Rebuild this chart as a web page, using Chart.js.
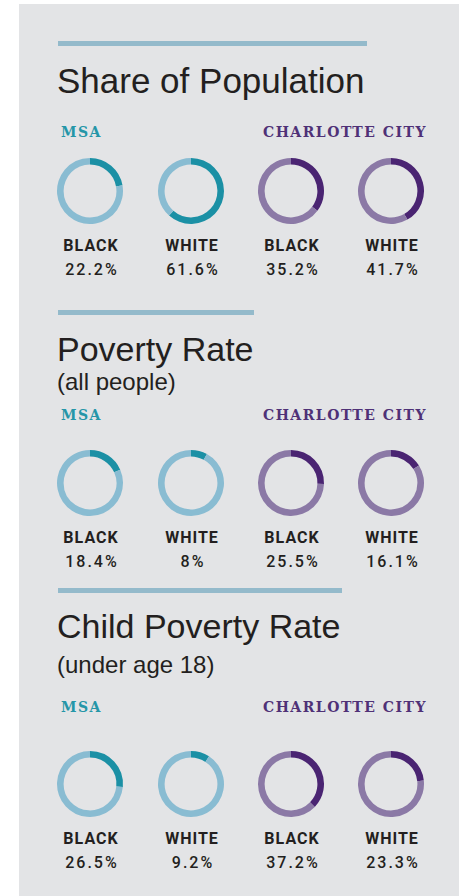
<!DOCTYPE html>
<html>
<head>
<meta charset="utf-8">
<script src="https://cdn.jsdelivr.net/npm/chart.js@4"></script>
<style>
  html, body { margin: 0; padding: 0; background: #ffffff; }
  body { width: 461px; height: 896px; position: relative; overflow: hidden; }
  #panel { position: absolute; left: 19px; top: 4px; width: 440px; height: 892px; background: #e3e4e6; }
  .rule { position: absolute; left: 58px; height: 5px; background: #94bacb; }
  .txt { position: absolute; white-space: nowrap; line-height: 1; color: #231f20; }
  .title { font-family: "Liberation Sans", Arial, sans-serif; }
  .note { font-family: "Liberation Sans", Arial, sans-serif; font-size: 24px; }
  .region { font-family: "DejaVu Serif", serif; font-weight: 700; font-size: 14px; letter-spacing: 1.5px; }
  .group { font-family: Roboto, sans-serif; font-weight: 700; font-size: 16px; letter-spacing: 1px; text-align: center; width: 120px; }
  .pct { font-family: Roboto, sans-serif; font-weight: 500; font-size: 16px; letter-spacing: 2px; text-align: center; width: 120px; }
  canvas { position: absolute; }
</style>
</head>
<body>
<div id="panel"></div>
<script>
"use strict";

// ---- data ----
const sectionTitles = ["Share of Population", "Poverty Rate", "Child Poverty Rate"];
const sectionNotes = ["", "(all people)", "(under age 18)"];
const regionLabels = ["MSA", "CHARLOTTE CITY"];
const groupLabels = ["BLACK", "WHITE", "BLACK", "WHITE"];
const shareOfPopulation = [22.2, 61.6, 35.2, 41.7];
const povertyRate = [18.4, 8, 25.5, 16.1];
const childPovertyRate = [26.5, 9.2, 37.2, 23.3];
const sectionValues = [shareOfPopulation, povertyRate, childPovertyRate];

// ---- layout ----
const ringX = [90, 191, 291, 391];
const sections = [
  { ruleY: 41, ruleW: 309, titleBase: 93, titleSize: 35, noteBase: 0, regionBase: 136.5, ringY: 191 },
  { ruleY: 310, ruleW: 196, titleBase: 361, titleSize: 34, noteBase: 390, regionBase: 420, ringY: 483 },
  { ruleY: 588, ruleW: 284, titleBase: 638, titleSize: 34, noteBase: 673, regionBase: 712, ringY: 784 }
];
const regionX = [61, 263];
const regionColor = ["#2596a8", "#4f3177"];
const ringDark = ["#1b90a5", "#4a2472"];
const ringLight = ["#89bcd2", "#8b79a6"];
const RING = 70;

// baseline offset (fraction of font size) for line-height:1 boxes
const ASC = { sans: 0.8465, roboto: 0.842, serif: 0.846 };

const addText = (cls, text, left, baseline, size, asc, extra = {}) => {
  const el = document.createElement("div");
  el.className = "txt " + cls;
  el.textContent = text;
  el.style.left = left + "px";
  el.style.top = (baseline - asc * size) + "px";
  if (extra.fontSize) el.style.fontSize = extra.fontSize + "px";
  if (extra.color) el.style.color = extra.color;
  document.body.appendChild(el);
  return el;
};

sections.forEach((s, si) => {
  const rule = document.createElement("div");
  rule.className = "rule";
  rule.style.top = s.ruleY + "px";
  rule.style.width = s.ruleW + "px";
  document.body.appendChild(rule);

  addText("title", sectionTitles[si], 57, s.titleBase, s.titleSize, ASC.sans, { fontSize: s.titleSize });
  if (sectionNotes[si]) addText("note", sectionNotes[si], 57, s.noteBase, 24, ASC.sans);

  regionLabels.forEach((r, ri) => {
    addText("region", r, regionX[ri], s.regionBase, 14, ASC.serif, { color: regionColor[ri] });
  });

  sectionValues[si].forEach((v, i) => {
    const side = i < 2 ? 0 : 1;
    const cx = ringX[i], cy = s.ringY;

    const canvas = document.createElement("canvas");
    canvas.width = RING; canvas.height = RING;
    canvas.style.left = (cx - RING / 2) + "px";
    canvas.style.top = (cy - RING / 2) + "px";
    document.body.appendChild(canvas);

    new Chart(canvas, {
      type: "doughnut",
      data: {
        labels: [groupLabels[i], "rest"],
        datasets: [{
          data: [v, 100 - v],
          backgroundColor: [ringDark[side], ringLight[side]],
          borderWidth: 0
        }]
      },
      options: {
        responsive: false, animation: false, cutout: "80%",
        layout: { padding: 2 },
        plugins: { legend: { display: false }, tooltip: { enabled: false } }
      }
    });

    const g = addText("group", groupLabels[i], cx - 60, cy + 60, 16, ASC.roboto);
    g.style.paddingLeft = "1px";
    const p = addText("pct", v + "%", cx - 60, cy + 84, 16, ASC.roboto);
    p.style.paddingLeft = "2px";
  });
});
</script>
</body>
</html>
